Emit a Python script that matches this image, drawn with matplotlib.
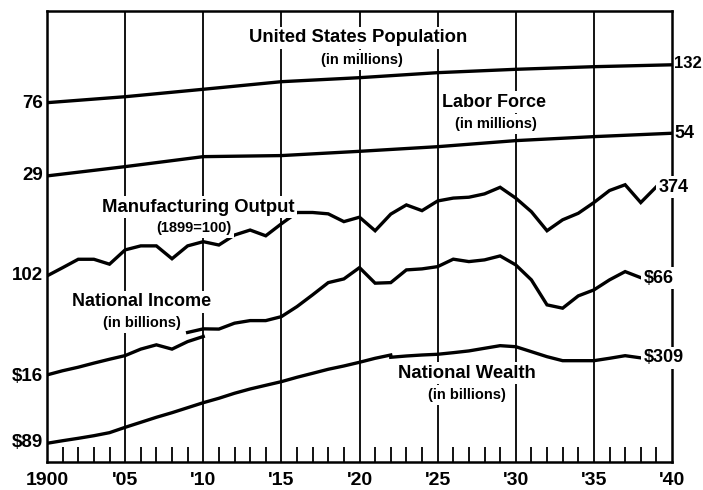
import numpy as np
import matplotlib
matplotlib.use('Agg')
import matplotlib.pyplot as plt

# data
years_5 = [1900, 1905, 1910, 1915, 1920, 1925, 1930, 1935, 1940]
population = [76, 82.9, 92.4, 103.2, 109.4, 117.7, 123.6, 128.4, 132]
labor_force = [29, 33.2, 38.4, 39.0, 41.5, 44.4, 48.5, 51.4, 54]

manuf_years = list(range(1900, 1940))
manufacturing = [102, 115, 130, 130, 121, 149, 158, 158, 131, 158,
                 168, 160, 185, 199, 183, 218, 257, 257, 252, 225,
                 240, 197, 251, 287, 264, 304, 317, 321, 337, 371,
                 317, 260, 197, 231, 254, 297, 354, 385, 297, 374]

income_old_years = list(range(1900, 1911))
income_old = [16, 17.0, 17.9, 19.0, 20.1, 21.2, 23.3, 24.8, 23.3, 26.0, 28.0]
income_new_years = list(range(1909, 1939))
income_new = [29.7, 31.3, 31.2, 34.0, 35.3, 35.3, 37.4, 43.3, 51.4, 61.4,
              64.8, 76.4, 60.9, 61.4, 73.9, 75.0, 77.5, 86.4, 83.4, 85.5,
              90.6, 79.5, 63.9, 44.4, 42.3, 50.6, 55.2, 63.9, 72.1, 66]

wealth_old_years = list(range(1900, 1923))
wealth_old = [89, 92.4, 95.7, 99.4, 103.9, 112.3, 120.8, 130.0, 139.0, 149.5,
              160.8, 171.5, 184.5, 196.4, 207.2, 218.5, 232.9, 246.8, 261.7,
              274.6, 289.8, 307.1, 322.2]
wealth_new_years = list(range(1922, 1939))
wealth_new = [311.7, 317.6, 322.2, 325.6, 333.3, 341.9, 355.3, 369.1, 363.6,
              338.2, 314.4, 296.6, 296.6, 296.6, 307.1, 319.0, 309]

xtick_years = [1900, 1905, 1910, 1915, 1920, 1925, 1930, 1935, 1940]
xtick_labels = ['1900', "'05", "'10", "'15", "'20", "'25", "'30", "'35", "'40"]

# vertical shift of each curve on the ratio scale (log10 units)
shift = {'pop': 0.393, 'labor': 0.348, 'manuf': -0.831,
         'income': -0.653, 'wealth': -1.831}

plt.rcParams['font.family'] = ['Liberation Sans', 'DejaVu Sans']
plt.rcParams['font.weight'] = 'bold'

W, H = 703, 490
fig = plt.figure(figsize=(W / 100, H / 100), dpi=100)
ax = fig.add_axes([47 / W, 1 - 462 / H, (672 - 47) / W, (462 - 11) / H])
ax.set_yscale('log')
ax.set_ylim(1, 10 ** 2.854)
ax.set_xlim(1900, 1940)

def draw(x, y, key):
    ax.plot(x, np.array(y) * 10 ** shift[key], color='black', lw=2.4,
            solid_joinstyle='miter', zorder=3)

draw(years_5, population, 'pop')
draw(years_5, labor_force, 'labor')
draw(manuf_years, manufacturing, 'manuf')
draw(income_old_years, income_old, 'income')
draw(income_new_years, income_new, 'income')
draw(wealth_old_years, wealth_old, 'wealth')
draw(wealth_new_years, wealth_new, 'wealth')

# grid and ticks
for yr in xtick_years[1:-1]:
    ax.axvline(yr, color='black', lw=1.3, zorder=1)
ax.set_xticks(xtick_years)
ax.set_xticklabels(xtick_labels, fontsize=14)
ax.set_xticks([y for y in range(1901, 1940) if y % 5], minor=True)
ax.tick_params(axis='x', which='major', length=0, pad=7)
ax.tick_params(axis='x', which='minor', direction='in', length=11, width=1.3)
ax.set_yticks([])
ax.yaxis.set_minor_locator(matplotlib.ticker.NullLocator())
for s in ax.spines.values():
    s.set_linewidth(1.8)

box = dict(facecolor='white', edgecolor='none', pad=2)

def label(px, py, text, size, ha='center', bg=True):
    fig.text(px / W, 1 - py / H, text, fontsize=size, ha=ha, va='center',
             bbox=box if bg else None, zorder=5)

label(358, 38, 'United States Population', 13.3)
label(362, 60, '(in millions)', 10.5)
label(494, 102, 'Labor Force', 13)
label(496, 124, '(in millions)', 10.5)
label(198, 207, 'Manufacturing Output', 13.3)
label(194, 228, '(1899=100)', 10.5)
label(142, 302, 'National Income', 13)
label(142, 323, '(in billions)', 10.5)
label(467, 373, 'National Wealth', 13.3)
label(467, 395, '(in billions)', 10.5)

# values at the left edge
for py, t in [(103, '76'), (176, '29'), (275, '102'), (376, '$16'), (442, '$89')]:
    label(43, py, t, 13.5, ha='right', bg=False)
# values at the right edge
label(674, 63, '132', 12, ha='left', bg=False)
label(674, 133, '54', 13, ha='left', bg=False)
label(659, 187, '374', 13, ha='left')
label(644, 278, '$66', 13, ha='left')
label(644, 358, '$309', 13, ha='left')

fig.savefig('out.png', dpi=100)
